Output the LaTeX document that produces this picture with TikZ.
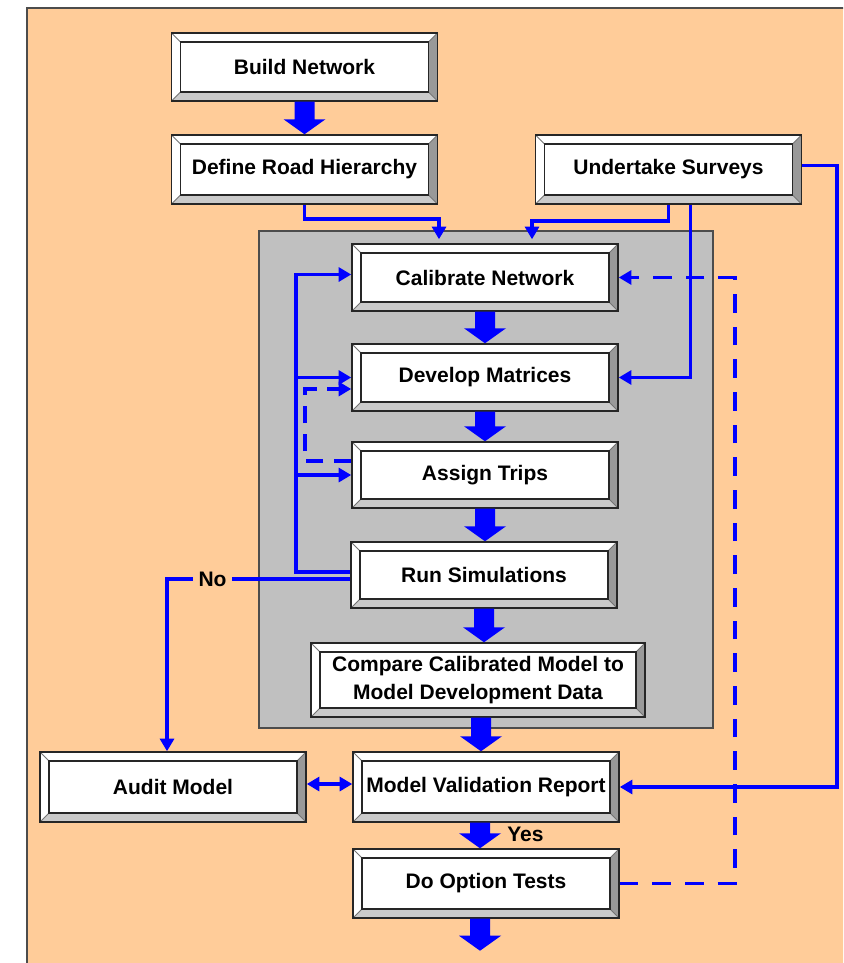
\documentclass[tikz,border=0pt]{standalone}
\usepackage{fontspec}
\setmainfont{Liberation Sans}
\usetikzlibrary{calc,arrows.meta}
\definecolor{peach}{HTML}{FFCC99}
\definecolor{panelgrey}{HTML}{C0C0C0}
\definecolor{bevright}{HTML}{999999}
\definecolor{bevbottom}{HTML}{CACACA}
\definecolor{edge}{HTML}{262626}
\newcommand\bigarr[2]{%
  \fill[blue] ($(#1)+(-10,0)$) -- ($(#2)+(-10,-15)$) -- ($(#2)+(-21,-15)$) -- (#2)
     -- ($(#2)+(21,-15)$) -- ($(#2)+(10,-15)$) -- ($(#1)+(10,0)$) -- cycle;}
\tikzset{
  bev/.style={draw=edge, line width=1.1pt, fill=white, inner sep=0pt,
    minimum width=199.5pt, minimum height=51pt, align=center,
    font=\bfseries\fontsize{15.75}{21}\selectfont,
    path picture={
      \coordinate (pA) at (path picture bounding box.north west);
      \coordinate (pB) at (path picture bounding box.north east);
      \coordinate (pC) at (path picture bounding box.south east);
      \coordinate (pD) at (path picture bounding box.south west);
      \coordinate (qa) at ([shift={(6.75pt,-6.75pt)}]pA);
      \coordinate (qb) at ([shift={(-6.75pt,-6.75pt)}]pB);
      \coordinate (qc) at ([shift={(-6.75pt,6.75pt)}]pC);
      \coordinate (qd) at ([shift={(6.75pt,6.75pt)}]pD);
      \fill[bevright] (pB)--(pC)--(qc)--(qb)--cycle;
      \fill[bevbottom] (pC)--(pD)--(qd)--(qc)--cycle;
      \draw[black!55, line width=0.6pt] (pA)--(qa) (pB)--(qb) (pC)--(qc) (pD)--(qd);
      \draw[edge, line width=1pt] (qa) rectangle (qc);
    }},
  conn/.style={draw=blue, line width=2.8pt, -{Triangle[length=9.5pt,width=10.5pt]}},
  dashconn/.style={conn, dash pattern=on 14pt off 10.5pt},
  lbl/.style={font=\bfseries\fontsize{15.75}{19}\selectfont, inner sep=1.5pt}
}
\begin{document}
\begin{tikzpicture}[x=0.75pt,y=-0.75pt]
\useasboundingbox (0,0) rectangle (843,963);
\clip (0,0) rectangle (843,963);
\path[fill=peach, draw=black!70, line width=1.1pt] (27,8) rectangle (870,990);
\path[fill=panelgrey, draw=black!70, line width=1pt] (259,231) rectangle (713,728);

% boxes
\node[bev, minimum height=51pt] (build) at (304.5,67) {Build Network};
\node[bev, minimum height=51.75pt] (define) at (304.5,169.5) {Define Road Hierarchy};
\node[bev, minimum height=51.75pt] (survey) at (668.5,169.5) {Undertake Surveys};
\node[bev, minimum height=50.25pt] (calib) at (485,277.5) {Calibrate Network};
\node[bev, minimum height=50.25pt] (develop) at (485,377.5) {Develop Matrices};
\node[bev, minimum height=49.5pt] (assign) at (485,475) {Assign Trips};
\node[bev, minimum height=49.5pt] (run) at (484,575) {Run Simulations};
\node[bev, minimum width=250.5pt, minimum height=55.5pt] (compare) at (478,680)
  {Compare Calibrated Model to\\Model Development Data};
\node[bev, minimum height=52.5pt] (mvr) at (486,787) {Model Validation Report};
\node[bev, minimum height=51.75pt] (doopt) at (486,883.5) {Do Option Tests};
\node[bev, minimum height=52.5pt] (audit) at (173,787) {Audit Model};

% big arrows
\coordinate (b1) at (build.south |- define.north);
\bigarr{build.south}{b1}
\coordinate (b2) at (calib.south |- develop.north);
\bigarr{calib.south}{b2}
\coordinate (b3) at (develop.south |- assign.north);
\bigarr{develop.south}{b3}
\coordinate (b4) at (assign.south |- run.north);
\bigarr{assign.south}{b4}
\coordinate (b5) at (run.south |- compare.north);
\bigarr{run.south}{b5}
\coordinate (b6b) at ($(mvr.north)+(-5,0)$);
\coordinate (b6a) at (b6b |- compare.south);
\bigarr{b6a}{b6b}
\coordinate (b7a) at ($(mvr.south)+(-6,0)$);
\coordinate (b7b) at (b7a |- doopt.north);
\bigarr{b7a}{b7b}
\coordinate (b8a) at ($(doopt.south)+(-6,0)$);
\coordinate (b8b) at ($(b8a)+(0,32)$);
\bigarr{b8a}{b8b}
\node[lbl, anchor=west] (yes) at ($(mvr.south)+(19,12)$) {Yes};

% thin connectors
\coordinate (dtgt) at ($(calib.north)+(-46,-4)$);
\draw[conn] (define.south) |- ($(dtgt)+(0,-20)$) -- (dtgt);
\coordinate (stgt) at ($(calib.north)+(47,-4)$);
\draw[conn] (survey.south) |- ($(stgt)+(0,-18)$) -- (stgt);
\draw[conn] ($(survey.south)+(22,0)$) |- (develop.east);
\coordinate (rturn) at ($(mvr.east)+(217,0)$);
\draw[conn] ($(survey.east)+(0,-4)$) -| (rturn) -- (mvr.east);
\coordinate (dturn) at ($(calib.east)+(116,0)$);
\draw[dashconn] (doopt.east) -| (dturn) -- (calib.east);
\coordinate (lp) at ($(calib.west)+(-55,-3)$);
\draw[conn] ($(run.west)+(0,-3)$) -| (lp) -- ($(calib.west)+(0,-3)$);
\draw[conn] (lp |- develop.west) -- (develop.west);
\draw[conn] (lp |- assign.west) -- (assign.west);
\coordinate (dl) at ($(develop.west)+(-46,11.5)$);
\draw[dashconn, dash pattern=on 13pt off 8pt] ($(assign.west)+(0,-14)$) -| (dl) -- ($(develop.west)+(0,11.5)$);
\draw[conn] ($(run.west)+(0,4)$) -| ($(audit.north)+(-6,0)$);
\node[lbl, fill=peach, inner xsep=4pt] (no) at (212.5,579) {No};
\draw[conn, {Triangle[length=9.5pt,width=10.5pt]}-{Triangle[length=9.5pt,width=10.5pt]}] ($(audit.east)+(0,-3)$) -- ($(mvr.west)+(0,-3)$);
\end{tikzpicture}
\end{document}
